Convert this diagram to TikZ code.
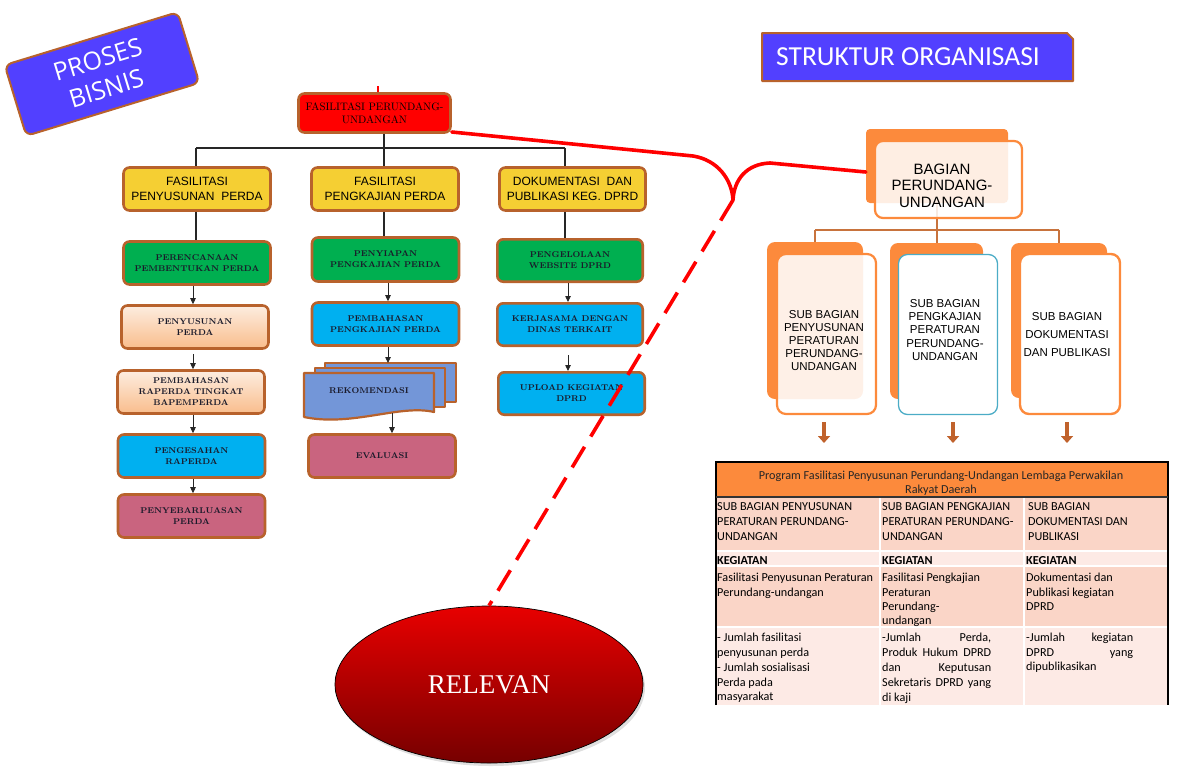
\documentclass[tikz,border=0pt]{standalone}
\usepackage{fontspec}
\newfontfamily\arialf{Liberation Sans}
\newfontfamily\calibf{Carlito}
\newfontfamily\titlef{Open Sans}
\newfontfamily\timesf{Liberation Serif}
\usetikzlibrary{arrows.meta,shapes.geometric,shadows}
\definecolor{brownb}{HTML}{B8622C}
\definecolor{yel}{HTML}{F5CF33}
\definecolor{grn}{HTML}{00AF50}
\definecolor{cyn}{HTML}{00B0F0}
\definecolor{pnk}{HTML}{C9647F}
\definecolor{rekb}{HTML}{7396D8}
\definecolor{purp}{HTML}{5240FF}
\definecolor{orng}{HTML}{FC8A3C}
\definecolor{orgline}{HTML}{C8733D}
\definecolor{salm}{HTML}{FAD5C7}
\definecolor{lsalm}{HTML}{FDEAE5}
\definecolor{darrow}{HTML}{C0622C}
\definecolor{subblue}{HTML}{4BACC6}
\definecolor{peachT}{HTML}{FDEDE0}
\definecolor{peachB}{HTML}{F9BD8C}
\definecolor{txt}{HTML}{1A1A2A}
\definecolor{relT}{HTML}{E80000}
\definecolor{relB}{HTML}{760000}
\begin{document}
\begin{tikzpicture}[x=1pt,y=-1pt,
  proc/.style={draw=brownb, line width=2.6pt, rounded corners=6pt, align=center,
    inner sep=2pt, text=txt, minimum width=147pt, minimum height=43pt,
    font=\fontsize{8.4}{11}\selectfont\bfseries},
  peach/.style={top color=peachT, bottom color=peachB},
  ybox/.style={proc, fill=yel, text=black, font=\arialf\fontsize{12}{15}\selectfont},
  tree/.style={draw=black!85, line width=1.2pt},
  arr/.style={draw=black!85, line width=0.8pt, -{Triangle[width=5.5pt,length=6pt]}},
  orgtree/.style={draw=orgline, line width=2pt},
  backr/.style={fill=orng, rounded corners=8pt, inner sep=0pt},
  subtxt/.style={align=center, inner sep=0pt, text=black},
  barrow/.style={draw=darrow, line width=4.5pt, -{Triangle[width=12pt,length=7pt]}},
  cell/.style={anchor=north west, inner sep=0pt, align=left, text=black,
    font=\calibf\fontsize{12.2}{14.8}\selectfont},
  redline/.style={draw=red, line width=3.6pt},
  rekst/.style={fill=rekb, draw=brownb, line width=2.2pt, line join=round}
]
\useasboundingbox (0,0) rectangle (1193,766);

% ---------- PROSES BISNIS ----------
\node[draw=brownb, fill=purp, line width=2pt, rounded corners=7pt,
  minimum width=181pt, minimum height=74pt, rotate=17, text=white, align=center,
  font=\titlef\fontsize{25}{30}\selectfont] (pb) at (102,74) {PROSES\\BISNIS};

% ---------- left process tree ----------
\node[proc, fill=red, text=black, minimum width=152pt, minimum height=39pt,
  font=\fontsize{10.8}{12.5}\selectfont] (top) at (374.5,113) {FASILITASI PERUNDANG-\\UNDANGAN};
\coordinate (tickc) at (378,86);
\draw[red, line width=1.6pt] (top.north -| tickc) -- (tickc);

\node[ybox] (y1) at (197,189) {FASILITASI\\PENYUSUNAN\ \ PERDA};
\node[ybox] (y2) at (385,189) {FASILITASI\\PENGKAJIAN PERDA};
\node[ybox, minimum width=146pt] (y3) at (572.5,189) {DOKUMENTASI\ \ DAN\\PUBLIKASI KEG. DPRD};

\coordinate (tx) at (384,148);
\coordinate (j1) at (196,148);
\coordinate (j3) at (565,148);
\coordinate (k1) at (193,0);
\coordinate (k2) at (388,0);
\coordinate (k3) at (568,0);

\draw[tree] (top.south -| tx) -- (tx);
\draw[tree] (j1) -- (j3);
\draw[tree] (j1) -- (j1 |- y1.north);
\draw[tree] (tx) -- (tx |- y2.north);
\draw[tree] (j3) -- (j3 |- y3.north);

% column 1
\node[proc, fill=grn] (c1a) at (197,263) {PERENCANAAN\\PEMBENTUKAN PERDA};
\node[proc, peach] (c1b) at (195,327) {PENYUSUNAN\\PERDA};
\node[proc, peach] (c1c) at (191,392) {PEMBAHASAN\\RAPERDA TINGKAT\\BAPEMPERDA};
\node[proc, fill=cyn] (c1d) at (191.5,456) {PENGESAHAN\\RAPERDA};
\node[proc, fill=pnk] (c1e) at (191.5,516) {PENYEBARLUASAN\\PERDA};
\draw[tree] (y1.south -| j1) -- (c1a.north -| j1);
\draw[arr] (c1a.south -| k1) -- (c1b.north -| k1);
\draw[arr, shorten <=4pt] (c1b.south -| k1) -- (c1c.north -| k1);
\draw[arr] (c1c.south -| k1) -- (c1d.north -| k1);
\draw[arr] (c1d.south -| k1) -- (c1e.north -| k1);

% column 2
\node[proc, fill=grn, minimum height=44pt] (c2a) at (385.5,259.5) {PENYIAPAN\\PENGKAJIAN PERDA};
\node[proc, fill=cyn] (c2b) at (385.5,324) {PEMBAHASAN\\PENGKAJIAN PERDA};
\filldraw[rekst] (325,363) rectangle (456,402);
\filldraw[rekst] (315,368) rectangle (445,407);
\filldraw[rekst] (304,373) -- (434,373) -- (434,412)
  .. controls (400,404) and (352,427) .. (304,417) -- cycle;
\node[inner sep=0pt, text=txt, font=\fontsize{8.4}{11}\selectfont\bfseries] (rek) at (369,391) {REKOMENDASI};
\coordinate (rekt) at (388,363);
\coordinate (rekbt) at (392,413);
\node[proc, fill=pnk] (c2d) at (382,456) {EVALUASI};
\draw[tree] (y2.south -| tx) -- (c2a.north -| tx);
\draw[arr] (c2a.south -| k2) -- (c2b.north -| k2);
\draw[arr] (c2b.south -| k2) -- (rekt);
\draw[arr] (rekbt) -- (rekbt |- c2d.north);

% column 3
\node[proc, fill=grn, minimum width=145.4pt, minimum height=42.4pt] (c3a) at (570,260.5) {PENGELOLAAN\\WEBSITE DPRD};
\node[proc, fill=cyn, minimum width=145.4pt, minimum height=42.4pt] (c3b) at (570,324.5) {KERJASAMA DENGAN\\DINAS TERKAIT};
\node[proc, fill=cyn, minimum width=146.4pt, minimum height=42.4pt] (c3c) at (571.5,393.5) {UPLOAD KEGIATAN\\DPRD};
\draw[tree] (y3.south -| j3) -- (c3a.north -| j3);
\draw[arr] (c3a.south -| k3) -- (c3b.north -| k3);
\draw[arr, shorten <=8pt] (c3b.south -| k3) -- (c3c.north -| k3);

% ---------- STRUKTUR ORGANISASI ----------
\filldraw[fill=purp, draw=brownb, line width=2pt, line join=round]
  (762,33) -- (1067,33) -- (1073,39) -- (1073,81) -- (762,81) -- cycle;
\node[anchor=west, inner sep=0pt, text=white, font=\calibf\fontsize{27.5}{30}\selectfont] (so) at (776,57) {STRUKTUR ORGANISASI};

% ---------- BAGIAN ----------
\node[backr, rounded corners=4pt, minimum width=142pt, minimum height=74pt] (bagb) at (937,166) {};
\coordinate (ojn) at (937,229.5);
\node[backr, minimum width=96pt, minimum height=157pt] (s1b) at (815,320.5) {};
\node[backr, minimum width=93pt, minimum height=156pt] (s2b) at (936.5,321) {};
\node[backr, minimum width=96pt, minimum height=155pt] (s3b) at (1059,320.5) {};
\draw[orgtree] (bagb.south) -- (ojn);
\draw[orgtree] (s1b.north |- ojn) -- (s3b.north |- ojn);
\draw[orgtree] (s1b.north |- ojn) -- (s1b.north);
\draw[orgtree] (s2b.north |- ojn) -- (s2b.north);
\draw[orgtree] (s3b.north |- ojn) -- (s3b.north);
\node[draw=orng, line width=2.2pt, fill=white, fill opacity=0.86, rounded corners=8pt,
  minimum width=147pt, minimum height=77pt] (bag) at (948.5,179.5) {};
\node[subtxt, font=\arialf\fontsize{15}{16.5}\selectfont] (bagt) at (942,185.5) {BAGIAN\\PERUNDANG-\\UNDANGAN};

\node[draw=orng, line width=2.2pt, fill=white, fill opacity=0.88, rounded corners=9pt,
  minimum width=99pt, minimum height=160pt] (s1) at (826.5,334) {};
\node[draw=subblue, line width=1.3pt, fill=white, rounded corners=9pt,
  minimum width=99pt, minimum height=160pt] (s2) at (948,334.5) {};
\node[draw=orng, line width=2.4pt, fill=white, rounded corners=9pt,
  minimum width=100pt, minimum height=160pt] (s3) at (1070,334) {};
\node[subtxt, font=\arialf\fontsize{11.5}{12.9}\selectfont] (s1t) at (824,340.5)
  {SUB BAGIAN\\PENYUSUNAN\\PERATURAN\\PERUNDANG-\\UNDANGAN};
\node[subtxt, font=\arialf\fontsize{11.5}{13.4}\selectfont] (s2t) at (945,330)
  {SUB BAGIAN\\PENGKAJIAN\\PERATURAN\\PERUNDANG-\\UNDANGAN};
\node[subtxt, font=\arialf\fontsize{11.5}{18}\selectfont] (s3t) at (1067,334.5)
  {SUB BAGIAN\\DOKUMENTASI\\DAN PUBLIKASI};

\coordinate (a1) at (824,443);
\coordinate (a2) at (953,443);
\coordinate (a3) at (1067,443);
\draw[barrow, shorten <=7pt] (s1.south -| a1) -- (a1);
\draw[barrow, shorten <=7pt] (s2.south -| a2) -- (a2);
\draw[barrow, shorten <=7pt] (s3.south -| a3) -- (a3);

% ---------- table ----------
\fill[orng] (716,462) rectangle (1168,497);
\fill[salm] (716,497) rectangle (1168,551);
\fill[lsalm] (716,551) rectangle (1168,566);
\fill[salm] (716,566) rectangle (1168,627);
\fill[lsalm] (716,627) rectangle (1168,705);
\draw[white, line width=2pt] (880,498) -- (880,705);
\draw[white, line width=2pt] (1024,498) -- (1024,705);
\draw[white, line width=2pt] (716,551) -- (1168,551);
\draw[white, line width=2pt] (716,566) -- (1168,566);
\draw[white, line width=2pt] (716,627) -- (1168,627);
\draw[black, line width=1.4pt] (716,705) -- (716,462) -- (1168,462) -- (1168,705);
\draw[black!80, line width=1.2pt] (716,497) -- (1168,497);

\node[align=center, inner sep=0pt, text=black!85, font=\calibf\fontsize{12.2}{13.5}\selectfont] (th) at (941,483)
  {Program Fasilitasi Penyusunan Perundang-Undangan Lembaga Perwakilan\\Rakyat Daerah};

\node[cell] (t21) at (717,502.5) {SUB BAGIAN PENYUSUNAN\\PERATURAN PERUNDANG-\\UNDANGAN};
\node[cell] (t22) at (882,502.5) {SUB BAGIAN PENGKAJIAN\\PERATURAN PERUNDANG-\\UNDANGAN};
\node[cell] (t23) at (1028,502.5) {SUB BAGIAN\\DOKUMENTASI DAN\\PUBLIKASI};

\node[cell, font=\calibf\fontsize{12.2}{14.8}\selectfont\bfseries] (t31) at (717,556.5) {KEGIATAN};
\node[cell, font=\calibf\fontsize{12.2}{14.8}\selectfont\bfseries] (t32) at (882,556.5) {KEGIATAN};
\node[cell, font=\calibf\fontsize{12.2}{14.8}\selectfont\bfseries] (t33) at (1026,556.5) {KEGIATAN};

\node[cell] (t41) at (717,573) {Fasilitasi Penyusunan Peraturan\\Perundang-undangan};
\node[cell, font=\calibf\fontsize{12.2}{14.4}\selectfont] (t42) at (882,573) {Fasilitasi Pengkajian\\Peraturan\\Perundang-\\undangan};
\node[cell, font=\calibf\fontsize{12.2}{14.4}\selectfont] (t43) at (1026,573) {Dokumentasi dan\\Publikasi kegiatan\\DPRD};

\node[cell] (t51) at (717,633) {- Jumlah fasilitasi\\penyusunan perda\\- Jumlah sosialisasi\\Perda pada\\masyarakat};
\node[cell, font=\calibf\fontsize{12.2}{15}\selectfont] (t52) at (882,633)
  {\makebox[109pt][s]{-Jumlah Perda,}\\\makebox[109pt][s]{Produk Hukum DPRD}\\\makebox[109pt][s]{dan Keputusan}\\\makebox[109pt][s]{Sekretaris DPRD yang}\\di kaji};
\node[cell, font=\calibf\fontsize{12.2}{14.6}\selectfont] (t53) at (1026,633)
  {\makebox[107pt][s]{-Jumlah kegiatan}\\\makebox[107pt][s]{DPRD yang}\\dipublikasikan};

% ---------- RELEVAN ----------
\node[ellipse, draw=black, line width=0.7pt, top color=relT, bottom color=relB,
  minimum width=308pt, minimum height=157pt, text=white,
  drop shadow={opacity=0.25, shadow xshift=2pt, shadow yshift=-3pt},
  font=\timesf\fontsize{27}{30}\selectfont] (rel) at (489,684.5) {RELEVAN};

% ---------- red connectors ----------
\coordinate (cusp) at (733,200);
\draw[redline, line cap=round] ([yshift=-19pt]top.east) -- (693,156)
  .. controls (718,160) and (732,180) .. (cusp);
\draw[redline, line cap=round] ([yshift=-6pt]bagb.west) -- (770,163)
  .. controls (746,164) and (734,180) .. (cusp);
\draw[redline, dash pattern=on 24pt off 12pt] (cusp) -- (rel.north);

\end{tikzpicture}
\end{document}
